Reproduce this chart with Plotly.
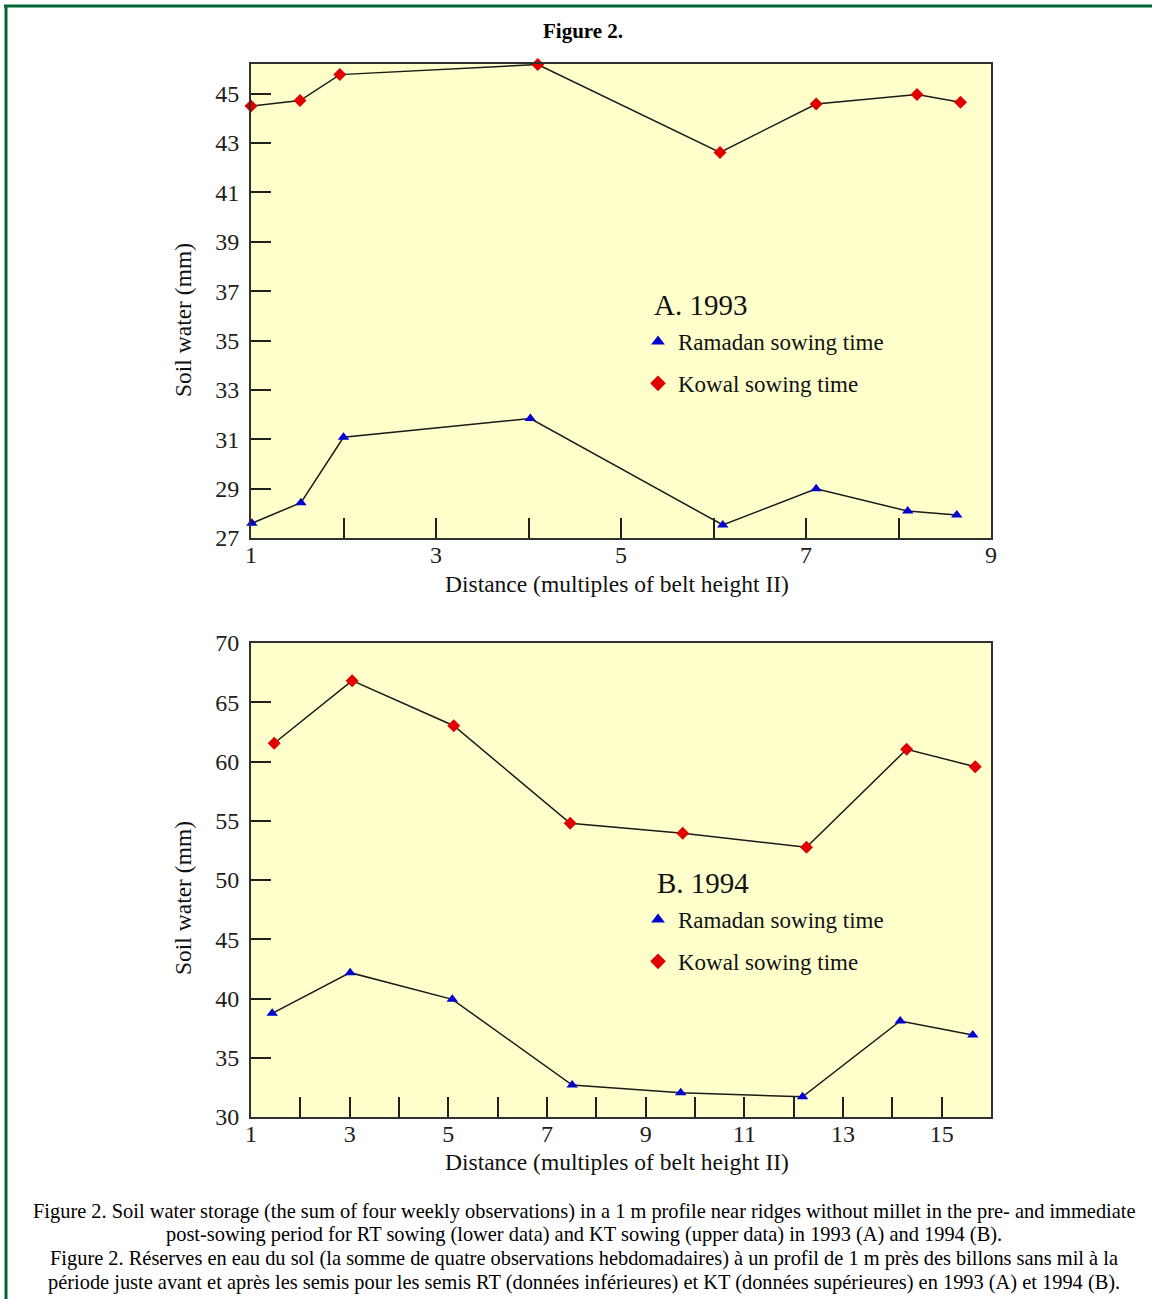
import plotly.graph_objects as go

W, H = 1152, 1299

# ---- data ----
top_x_kowal = [1.00, 1.53, 1.96, 4.10, 6.07, 7.11, 8.20, 8.67]
top_y_kowal = [44.50, 44.72, 45.77, 46.18, 42.62, 44.58, 44.96, 44.65]
top_x_ramadan = [1.01, 1.54, 2.00, 4.02, 6.10, 7.11, 8.10, 8.63]
top_y_ramadan = [27.60, 28.43, 31.08, 31.84, 27.53, 28.99, 28.09, 27.93]

bot_x_kowal = [1.47, 3.05, 5.11, 7.47, 9.75, 12.26, 14.29, 15.68]
bot_y_kowal = [61.54, 66.82, 63.02, 54.78, 53.94, 52.76, 61.03, 59.56]
bot_x_ramadan = [1.43, 3.01, 5.08, 7.51, 9.71, 12.18, 14.16, 15.63]
bot_y_ramadan = [38.75, 42.18, 39.93, 32.70, 32.05, 31.71, 38.10, 36.92]

top_yticks = [27, 29, 31, 33, 35, 37, 39, 41, 43, 45]
top_xticks = [1, 3, 5, 7, 9]
bot_yticks = [30, 35, 40, 45, 50, 55, 60, 65, 70]
bot_xticks = [1, 3, 5, 7, 9, 11, 13, 15]

series_names = ["Ramadan sowing time", "Kowal sowing time"]
panel_labels = ["A. 1993", "B. 1994"]
y_title = "Soil water (mm)"
x_title = "Distance (multiples of belt height II)"
fig_title = "Figure 2."
caption_lines = [
    "Figure 2. Soil water storage (the sum of four weekly observations) in a 1 m profile near ridges without millet in the pre- and immediate",
    "post-sowing period for RT sowing (lower data) and KT sowing (upper data) in 1993 (A) and 1994 (B).",
    "Figure 2. Réserves en eau du sol (la somme de quatre observations hebdomadaires) à un profil de 1 m près des billons sans mil à la",
    "période juste avant et après les semis pour les semis RT (données inférieures) et KT (données supérieures) en 1993 (A) et 1994 (B).",
]

SERIF = "Liberation Serif, Times New Roman, serif"
RED = "#e00000"
BLUE = "#0000d0"
LINE = "#1a1a1a"
BG = "#ffffcc"
TXT = "#111111"

def px(x):
    return x / W

def py(y):
    return 1 - y / H

fig = go.Figure()

def add_panel(xs_r, ys_r, xs_k, ys_k, xa, ya, legend):
    fig.add_trace(go.Scatter(x=xs_k, y=ys_k, mode="lines+markers", xaxis=xa, yaxis=ya,
                             line=dict(color=LINE, width=1.5),
                             marker=dict(symbol="diamond", size=10, color=RED),
                             showlegend=False, cliponaxis=False))
    fig.add_trace(go.Scatter(x=xs_r, y=ys_r, mode="lines+markers", xaxis=xa, yaxis=ya,
                             line=dict(color=LINE, width=1.5),
                             marker=dict(symbol="triangle-up", size=10, color=BLUE),
                             showlegend=False, cliponaxis=False))
    # legend entries (markers only)
    fig.add_trace(go.Scatter(x=[None], y=[None], mode="markers", xaxis=xa, yaxis=ya,
                             marker=dict(symbol="triangle-up", size=9, color=BLUE),
                             name=series_names[0], legend=legend, legendgroup=legend + "r"))
    fig.add_trace(go.Scatter(x=[None], y=[None], mode="markers", xaxis=xa, yaxis=ya,
                             marker=dict(symbol="diamond", size=9, color=RED),
                             name=series_names[1], legend=legend, legendgroup=legend + "k"))

add_panel(top_x_ramadan, top_y_ramadan, top_x_kowal, top_y_kowal, "x", "y", "legend")
add_panel(bot_x_ramadan, bot_y_ramadan, bot_x_kowal, bot_y_kowal, "x2", "y2", "legend2")

axis_common = dict(
    showline=True, linecolor="#303030", linewidth=2, mirror=True,
    showgrid=False, zeroline=False, automargin=False,
    ticks="inside", ticklen=20, tickwidth=2, tickcolor="#202020",
    tickfont=dict(family=SERIF, size=24, color="#202020"),
)
minor_x = dict(dtick=1, tick0=0, ticks="inside", ticklen=20, tickwidth=2, tickcolor="#202020")

top_dom = [py(538), py(64)]
bot_dom = [py(1117), py(643)]
xdom = [px(251), px(991)]

legend_common = dict(xanchor="left", yanchor="top", bgcolor="rgba(0,0,0,0)",
                     font=dict(family=SERIF, size=23, color=TXT),
                     traceorder="grouped", tracegroupgap=9, itemsizing="constant")

fig.update_layout(
    width=W, height=H,
    margin=dict(l=0, r=0, t=0, b=0, pad=0, autoexpand=False),
    paper_bgcolor="white",
    plot_bgcolor=BG,
    xaxis=dict(domain=xdom, anchor="y", range=[1, 9], tickmode="array", tickvals=top_xticks,
               minor=minor_x, ticklabelstandoff=-6, **axis_common),
    yaxis=dict(domain=top_dom, anchor="x", range=[27, 46.2], tickmode="array", tickvals=top_yticks,
               ticklabelstandoff=5, **axis_common),
    xaxis2=dict(domain=xdom, anchor="y2", range=[1, 16], tickmode="array", tickvals=bot_xticks,
                minor=minor_x, ticklabelstandoff=-6, **axis_common),
    yaxis2=dict(domain=bot_dom, anchor="x2", range=[30, 70], tickmode="array", tickvals=bot_yticks,
                ticklabelstandoff=5, **axis_common),
    legend=dict(x=px(638), y=py(320), **legend_common),
    legend2=dict(x=px(638), y=py(898), **legend_common),
)

def note(text, x, y, size, xanchor="center", angle=0, bold=False, color=TXT):
    return dict(text=("<b>%s</b>" % text) if bold else text, x=px(x), y=py(y),
                xref="paper", yref="paper", xanchor=xanchor, yanchor="middle",
                textangle=angle, showarrow=False,
                font=dict(family=SERIF, size=size, color=color))

ann = [note(fig_title, 583, 31, 21, bold=True, color="black")]
ann += [note(panel_labels[0], 652, 305, 29, xanchor="left"),
        note(panel_labels[1], 655, 883, 29, xanchor="left")]
ann += [note(y_title, 183, yc, 23.5, angle=-90) for yc in (320, 898)]
ann += [note(x_title, 617, yc, 23.5) for yc in (584, 1162)]
ann += [note(line, 584, 1211 + i * 23.7, 20.4, color="black") for i, line in enumerate(caption_lines)]
fig.update_layout(annotations=ann)

GREEN = "#006633"
fig.update_layout(shapes=[
    dict(type="line", xref="paper", yref="paper", x0=px(4), x1=1, y0=py(6), y1=py(6),
         line=dict(color=GREEN, width=3)),
    dict(type="line", xref="paper", yref="paper", x0=px(6), x1=px(6), y0=py(5), y1=0,
         line=dict(color=GREEN, width=3)),
])

fig.write_html("out.html", config={"displayModeBar": False},
               post_script="document.body.style.margin='0px';document.body.style.padding='0px';")
